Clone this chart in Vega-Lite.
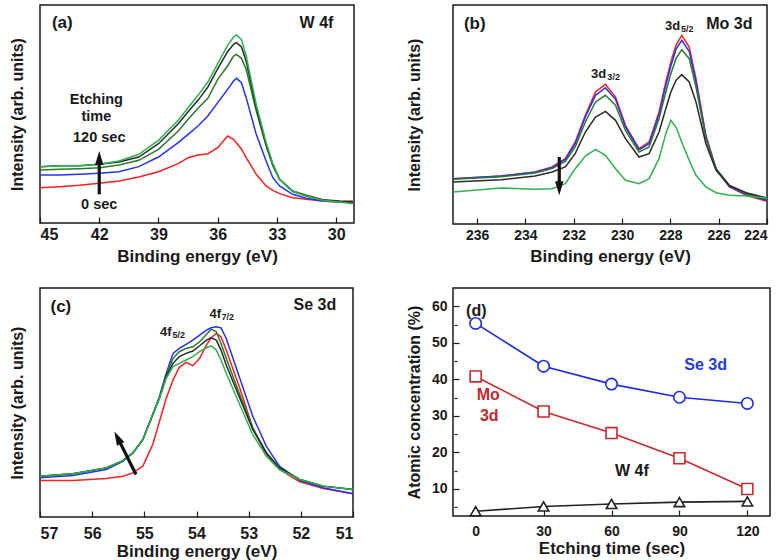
{
"$schema": "https://vega.github.io/schema/vega-lite/v6.json",
"background": "white",
"padding": {"left": 8, "top": 4, "right": 4, "bottom": 0},
"config": {
  "font": "Liberation Sans",
  "view": {"stroke": "#1a1a1a", "strokeWidth": 1.5},
  "axis": {"labelFontWeight": "bold", "titleFontWeight": "bold", "labelColor": "#1a1a1a", "titleColor": "#1a1a1a", "grid": false, "domain": false, "tickColor": "#1a1a1a", "tickWidth": 1.2, "labelFont": "Liberation Sans", "titleFont": "Liberation Sans", "labelOverlap": false},
  "text": {"font": "Liberation Sans", "fontWeight": "bold"}
},
"datasets": {
  "a": [
    {"s":"0","e":45,"v":106},{"s":"0","e":44,"v":109},{"s":"0","e":43,"v":113},{"s":"0","e":42,"v":119},{"s":"0","e":41,"v":126},{"s":"0","e":40,"v":138},{"s":"0","e":39,"v":154},{"s":"0","e":38,"v":178},{"s":"0","e":37.5,"v":196},{"s":"0","e":37,"v":204},{"s":"0","e":36.5,"v":208},{"s":"0","e":36,"v":226},{"s":"0","e":35.5,"v":261},{"s":"0","e":35.2,"v":251},{"s":"0","e":35.05,"v":240},{"s":"0","e":34.8,"v":222},{"s":"0","e":34.56,"v":196},{"s":"0","e":34.05,"v":146},{"s":"0","e":33.55,"v":111},{"s":"0","e":33.21,"v":98},{"s":"0","e":32.87,"v":88},{"s":"0","e":32.2,"v":76},{"s":"0","e":31.52,"v":71},{"s":"0","e":30.68,"v":66},{"s":"0","e":29.83,"v":63},{"s":"0","e":29.16,"v":66},
    {"s":"30","e":45,"v":144},{"s":"30","e":44,"v":144},{"s":"30","e":43,"v":146},{"s":"30","e":42,"v":149},{"s":"30","e":41,"v":154},{"s":"30","e":40,"v":169},{"s":"30","e":39,"v":198},{"s":"30","e":38,"v":241},{"s":"30","e":37.5,"v":266},{"s":"30","e":37,"v":291},{"s":"30","e":36.5,"v":321},{"s":"30","e":36,"v":361},{"s":"30","e":35.5,"v":401},{"s":"30","e":35.2,"v":426},{"s":"30","e":35.05,"v":434},{"s":"30","e":34.8,"v":421},{"s":"30","e":34.56,"v":376},{"s":"30","e":34.05,"v":266},{"s":"30","e":33.55,"v":186},{"s":"30","e":33.21,"v":136},{"s":"30","e":32.87,"v":111},{"s":"30","e":32.2,"v":86},{"s":"30","e":31.52,"v":74},{"s":"30","e":30.68,"v":66},{"s":"30","e":29.83,"v":63},{"s":"30","e":29.16,"v":64},
    {"s":"60","e":45,"v":159},{"s":"60","e":44,"v":161},{"s":"60","e":43,"v":163},{"s":"60","e":42,"v":166},{"s":"60","e":41,"v":174},{"s":"60","e":40,"v":188},{"s":"60","e":39,"v":221},{"s":"60","e":38,"v":276},{"s":"60","e":37.5,"v":311},{"s":"60","e":37,"v":344},{"s":"60","e":36.5,"v":374},{"s":"60","e":36,"v":431},{"s":"60","e":35.5,"v":471},{"s":"60","e":35.2,"v":501},{"s":"60","e":35.05,"v":506},{"s":"60","e":34.8,"v":494},{"s":"60","e":34.56,"v":461},{"s":"60","e":34.05,"v":336},{"s":"60","e":33.55,"v":231},{"s":"60","e":33.21,"v":171},{"s":"60","e":32.87,"v":131},{"s":"60","e":32.2,"v":94},{"s":"60","e":31.52,"v":81},{"s":"60","e":30.68,"v":68},{"s":"60","e":29.83,"v":64},{"s":"60","e":29.16,"v":62},
    {"s":"90","e":45,"v":169},{"s":"90","e":44,"v":172},{"s":"90","e":43,"v":172},{"s":"90","e":42,"v":176},{"s":"90","e":41,"v":183},{"s":"90","e":40,"v":198},{"s":"90","e":39,"v":238},{"s":"90","e":38,"v":298},{"s":"90","e":37.5,"v":334},{"s":"90","e":37,"v":368},{"s":"90","e":36.5,"v":408},{"s":"90","e":36,"v":463},{"s":"90","e":35.5,"v":514},{"s":"90","e":35.2,"v":536},{"s":"90","e":35.05,"v":541},{"s":"90","e":34.8,"v":528},{"s":"90","e":34.56,"v":486},{"s":"90","e":34.05,"v":346},{"s":"90","e":33.55,"v":236},{"s":"90","e":33.21,"v":176},{"s":"90","e":32.87,"v":131},{"s":"90","e":32.2,"v":96},{"s":"90","e":31.52,"v":83},{"s":"90","e":30.68,"v":70},{"s":"90","e":29.83,"v":66},{"s":"90","e":29.16,"v":64},
    {"s":"120","e":45,"v":169},{"s":"120","e":44,"v":172},{"s":"120","e":43,"v":172},{"s":"120","e":42,"v":176},{"s":"120","e":41,"v":186},{"s":"120","e":40,"v":206},{"s":"120","e":39,"v":248},{"s":"120","e":38,"v":308},{"s":"120","e":37.5,"v":346},{"s":"120","e":37,"v":383},{"s":"120","e":36.5,"v":423},{"s":"120","e":36,"v":478},{"s":"120","e":35.5,"v":533},{"s":"120","e":35.2,"v":558},{"s":"120","e":35.05,"v":564},{"s":"120","e":34.8,"v":551},{"s":"120","e":34.56,"v":501},{"s":"120","e":34.05,"v":356},{"s":"120","e":33.55,"v":241},{"s":"120","e":33.21,"v":178},{"s":"120","e":32.87,"v":131},{"s":"120","e":32.2,"v":96},{"s":"120","e":31.52,"v":81},{"s":"120","e":30.68,"v":68},{"s":"120","e":29.83,"v":63},{"s":"120","e":29.16,"v":58}
  ],
  "b": [
    {"s":"0","e":237,"v":136},{"s":"0","e":235,"v":144},{"s":"0","e":233.6,"v":156},{"s":"0","e":232.9,"v":171},{"s":"0","e":232.35,"v":196},{"s":"0","e":231.94,"v":246},{"s":"0","e":231.52,"v":326},{"s":"0","e":231.1,"v":396},{"s":"0","e":230.69,"v":419},{"s":"0","e":230.27,"v":381},{"s":"0","e":229.86,"v":296},{"s":"0","e":229.3,"v":226},{"s":"0","e":228.88,"v":246},{"s":"0","e":228.47,"v":336},{"s":"0","e":228.19,"v":426},{"s":"0","e":227.98,"v":486},{"s":"0","e":227.77,"v":536},{"s":"0","e":227.53,"v":566},{"s":"0","e":227.22,"v":531},{"s":"0","e":226.94,"v":436},{"s":"0","e":226.53,"v":266},{"s":"0","e":226.11,"v":166},{"s":"0","e":225.56,"v":111},{"s":"0","e":224.86,"v":86},{"s":"0","e":224,"v":68},
    {"s":"30","e":237,"v":136},{"s":"30","e":235,"v":144},{"s":"30","e":233.6,"v":155},{"s":"30","e":232.9,"v":169},{"s":"30","e":232.35,"v":194},{"s":"30","e":231.94,"v":241},{"s":"30","e":231.52,"v":321},{"s":"30","e":231.1,"v":386},{"s":"30","e":230.69,"v":409},{"s":"30","e":230.27,"v":374},{"s":"30","e":229.86,"v":291},{"s":"30","e":229.3,"v":223},{"s":"30","e":228.88,"v":241},{"s":"30","e":228.47,"v":328},{"s":"30","e":228.19,"v":416},{"s":"30","e":227.98,"v":474},{"s":"30","e":227.77,"v":524},{"s":"30","e":227.53,"v":551},{"s":"30","e":227.22,"v":518},{"s":"30","e":226.94,"v":426},{"s":"30","e":226.53,"v":261},{"s":"30","e":226.11,"v":166},{"s":"30","e":225.56,"v":113},{"s":"30","e":224.86,"v":88},{"s":"30","e":224,"v":71},
    {"s":"60","e":237,"v":134},{"s":"60","e":235,"v":142},{"s":"60","e":233.6,"v":153},{"s":"60","e":232.9,"v":166},{"s":"60","e":232.35,"v":188},{"s":"60","e":231.94,"v":231},{"s":"60","e":231.52,"v":306},{"s":"60","e":231.1,"v":366},{"s":"60","e":230.69,"v":386},{"s":"60","e":230.27,"v":356},{"s":"60","e":229.86,"v":281},{"s":"60","e":229.3,"v":216},{"s":"60","e":228.88,"v":231},{"s":"60","e":228.47,"v":316},{"s":"60","e":228.19,"v":396},{"s":"60","e":227.98,"v":451},{"s":"60","e":227.77,"v":496},{"s":"60","e":227.53,"v":523},{"s":"60","e":227.22,"v":496},{"s":"60","e":226.94,"v":411},{"s":"60","e":226.53,"v":256},{"s":"60","e":226.11,"v":166},{"s":"60","e":225.56,"v":116},{"s":"60","e":224.86,"v":91},{"s":"60","e":224,"v":76},
    {"s":"90","e":237,"v":126},{"s":"90","e":235,"v":133},{"s":"90","e":233.6,"v":144},{"s":"90","e":232.9,"v":156},{"s":"90","e":232.35,"v":171},{"s":"90","e":231.94,"v":211},{"s":"90","e":231.52,"v":276},{"s":"90","e":231.1,"v":321},{"s":"90","e":230.69,"v":338},{"s":"90","e":230.27,"v":311},{"s":"90","e":229.86,"v":256},{"s":"90","e":229.3,"v":201},{"s":"90","e":228.88,"v":211},{"s":"90","e":228.47,"v":276},{"s":"90","e":228.19,"v":346},{"s":"90","e":227.98,"v":396},{"s":"90","e":227.77,"v":431},{"s":"90","e":227.53,"v":448},{"s":"90","e":227.22,"v":426},{"s":"90","e":226.94,"v":366},{"s":"90","e":226.53,"v":241},{"s":"90","e":226.11,"v":161},{"s":"90","e":225.56,"v":116},{"s":"90","e":224.86,"v":94},{"s":"90","e":224,"v":78},
    {"s":"120","e":237,"v":96},{"s":"120","e":235,"v":108},{"s":"120","e":233.6,"v":104},{"s":"120","e":232.9,"v":106},{"s":"120","e":232.35,"v":121},{"s":"120","e":231.94,"v":166},{"s":"120","e":231.52,"v":204},{"s":"120","e":231.1,"v":224},{"s":"120","e":230.69,"v":206},{"s":"120","e":230.27,"v":166},{"s":"120","e":229.86,"v":131},{"s":"120","e":229.3,"v":121},{"s":"120","e":228.88,"v":136},{"s":"120","e":228.47,"v":196},{"s":"120","e":228.19,"v":271},{"s":"120","e":227.98,"v":311},{"s":"120","e":227.77,"v":291},{"s":"120","e":227.53,"v":246},{"s":"120","e":227.22,"v":191},{"s":"120","e":226.94,"v":146},{"s":"120","e":226.53,"v":111},{"s":"120","e":226.11,"v":94},{"s":"120","e":225.56,"v":86},{"s":"120","e":224.86,"v":84},{"s":"120","e":224,"v":78}
  ],
  "c": [
    {"s":"0","e":57,"v":110},{"s":"0","e":56.37,"v":110},{"s":"0","e":55.73,"v":116},{"s":"0","e":55.41,"v":123},{"s":"0","e":55.22,"v":133},{"s":"0","e":55.03,"v":153},{"s":"0","e":54.84,"v":218},{"s":"0","e":54.71,"v":288},{"s":"0","e":54.58,"v":358},{"s":"0","e":54.45,"v":413},{"s":"0","e":54.33,"v":451},{"s":"0","e":54.2,"v":466},{"s":"0","e":54.07,"v":456},{"s":"0","e":53.94,"v":478},{"s":"0","e":53.81,"v":518},{"s":"0","e":53.72,"v":540},{"s":"0","e":53.62,"v":553},{"s":"0","e":53.53,"v":543},{"s":"0","e":53.43,"v":503},{"s":"0","e":53.17,"v":388},{"s":"0","e":52.92,"v":268},{"s":"0","e":52.66,"v":188},{"s":"0","e":52.41,"v":143},{"s":"0","e":52.02,"v":106},{"s":"0","e":51.57,"v":86},{"s":"0","e":51,"v":70},
    {"s":"30","e":57,"v":118},{"s":"30","e":56.37,"v":125},{"s":"30","e":55.73,"v":143},{"s":"30","e":55.41,"v":168},{"s":"30","e":55.22,"v":193},{"s":"30","e":55.03,"v":233},{"s":"30","e":54.84,"v":308},{"s":"30","e":54.71,"v":363},{"s":"30","e":54.58,"v":433},{"s":"30","e":54.45,"v":493},{"s":"30","e":54.33,"v":508},{"s":"30","e":54.2,"v":520},{"s":"30","e":54.07,"v":533},{"s":"30","e":53.94,"v":548},{"s":"30","e":53.81,"v":563},{"s":"30","e":53.72,"v":570},{"s":"30","e":53.62,"v":573},{"s":"30","e":53.53,"v":570},{"s":"30","e":53.43,"v":538},{"s":"30","e":53.17,"v":418},{"s":"30","e":52.92,"v":303},{"s":"30","e":52.66,"v":213},{"s":"30","e":52.41,"v":153},{"s":"30","e":52.02,"v":110},{"s":"30","e":51.57,"v":88},{"s":"30","e":51,"v":70},
    {"s":"60","e":57,"v":123},{"s":"60","e":56.37,"v":130},{"s":"60","e":55.73,"v":148},{"s":"60","e":55.41,"v":170},{"s":"60","e":55.22,"v":193},{"s":"60","e":55.03,"v":233},{"s":"60","e":54.84,"v":308},{"s":"60","e":54.71,"v":360},{"s":"60","e":54.58,"v":426},{"s":"60","e":54.45,"v":478},{"s":"60","e":54.33,"v":498},{"s":"60","e":54.2,"v":508},{"s":"60","e":54.07,"v":513},{"s":"60","e":53.94,"v":528},{"s":"60","e":53.81,"v":550},{"s":"60","e":53.72,"v":566},{"s":"60","e":53.62,"v":558},{"s":"60","e":53.53,"v":523},{"s":"60","e":53.43,"v":478},{"s":"60","e":53.17,"v":368},{"s":"60","e":52.92,"v":268},{"s":"60","e":52.66,"v":193},{"s":"60","e":52.41,"v":148},{"s":"60","e":52.02,"v":113},{"s":"60","e":51.57,"v":93},{"s":"60","e":51,"v":83},
    {"s":"90","e":57,"v":123},{"s":"90","e":56.37,"v":130},{"s":"90","e":55.73,"v":148},{"s":"90","e":55.41,"v":170},{"s":"90","e":55.22,"v":193},{"s":"90","e":55.03,"v":233},{"s":"90","e":54.84,"v":308},{"s":"90","e":54.71,"v":358},{"s":"90","e":54.58,"v":423},{"s":"90","e":54.45,"v":463},{"s":"90","e":54.33,"v":483},{"s":"90","e":54.2,"v":493},{"s":"90","e":54.07,"v":500},{"s":"90","e":53.94,"v":516},{"s":"90","e":53.81,"v":533},{"s":"90","e":53.72,"v":540},{"s":"90","e":53.62,"v":533},{"s":"90","e":53.53,"v":503},{"s":"90","e":53.43,"v":458},{"s":"90","e":53.17,"v":358},{"s":"90","e":52.92,"v":263},{"s":"90","e":52.66,"v":193},{"s":"90","e":52.41,"v":148},{"s":"90","e":52.02,"v":113},{"s":"90","e":51.57,"v":93},{"s":"90","e":51,"v":83},
    {"s":"120","e":57,"v":123},{"s":"120","e":56.37,"v":130},{"s":"120","e":55.73,"v":148},{"s":"120","e":55.41,"v":170},{"s":"120","e":55.22,"v":193},{"s":"120","e":55.03,"v":233},{"s":"120","e":54.84,"v":308},{"s":"120","e":54.71,"v":358},{"s":"120","e":54.58,"v":418},{"s":"120","e":54.45,"v":453},{"s":"120","e":54.33,"v":463},{"s":"120","e":54.2,"v":473},{"s":"120","e":54.07,"v":483},{"s":"120","e":53.94,"v":498},{"s":"120","e":53.81,"v":510},{"s":"120","e":53.72,"v":516},{"s":"120","e":53.62,"v":503},{"s":"120","e":53.53,"v":473},{"s":"120","e":53.43,"v":433},{"s":"120","e":53.17,"v":338},{"s":"120","e":52.92,"v":248},{"s":"120","e":52.66,"v":183},{"s":"120","e":52.41,"v":143},{"s":"120","e":52.02,"v":113},{"s":"120","e":51.57,"v":93},{"s":"120","e":51,"v":83}
  ],
  "d": [
    {"el":"Se 3d","t":0,"c":55.3},{"el":"Se 3d","t":30,"c":43.6},{"el":"Se 3d","t":60,"c":38.7},{"el":"Se 3d","t":90,"c":35.1},{"el":"Se 3d","t":120,"c":33.4},
    {"el":"Mo 3d","t":0,"c":40.8},{"el":"Mo 3d","t":30,"c":31.2},{"el":"Mo 3d","t":60,"c":25.3},{"el":"Mo 3d","t":90,"c":18.4},{"el":"Mo 3d","t":120,"c":10.0},
    {"el":"W 4f","t":0,"c":3.9},{"el":"W 4f","t":30,"c":5.2},{"el":"W 4f","t":60,"c":5.9},{"el":"W 4f","t":90,"c":6.4},{"el":"W 4f","t":120,"c":6.6}
  ]
},
"spacing": 48,
"resolve": {"scale": {"color": "independent", "stroke": "independent", "shape": "independent", "size": "independent"}},
"hconcat": [
  {"spacing": 22, "resolve": {"scale": {"color": "independent"}}, "vconcat": [
    {"width": 314, "height": 218, "layer": [
      {"data": {"name": "a"}, "mark": {"type": "line", "strokeWidth": 1.5},
       "encoding": {
         "x": {"field": "e", "type": "quantitative", "scale": {"domain": [29.1, 45], "reverse": true, "nice": false, "zero": false},
               "axis": {"title": "Binding energy (eV)", "values": [45,43.5,42,40.5,39,37.5,36,34.5,33,31.5,30], "labelOverlap": false, "labelExpr": "datum.value % 3 === 0 ? datum.label : ''", "tickSize": {"condition": {"test": "datum.value % 3 === 0", "value": -6}, "value": -3}, "labelFontSize": 16, "titleFontSize": 17, "labelPadding": 9, "titlePadding": 6}},
         "y": {"field": "v", "type": "quantitative", "scale": {"domain": [0, 654], "nice": false, "zero": false},
               "axis": {"title": "Intensity (arb. units)", "labels": false, "ticks": false, "titleFontSize": 16, "titlePadding": 15}},
         "color": {"field": "s", "type": "nominal", "scale": {"domain": ["0","30","60","90","120"], "range": ["#ff1f1f","#2233ff","#2a7a2a","#2a2a2a","#2eb24e"]}, "legend": null}
       }},
      {"data": {"values": [{"e":43.87,"v":600,"t":"(a)"}]}, "mark": {"type": "text", "fontSize": 17, "color": "#1a1a1a"},
       "encoding": {"x": {"field": "e", "type": "quantitative"}, "y": {"field": "v", "type": "quantitative"}, "text": {"field": "t"}}},
      {"data": {"values": [{"e":31.0,"v":600,"t":"W 4f"}]}, "mark": {"type": "text", "fontSize": 16, "color": "#1a1a1a"},
       "encoding": {"x": {"field": "e", "type": "quantitative"}, "y": {"field": "v", "type": "quantitative"}, "text": {"field": "t"}}},
      {"data": {"values": [{"e":42.15,"v":369,"t":"Etching"},{"e":42.15,"v":318,"t":"time"},{"e":42.0,"v":255,"t":"120 sec"},{"e":42.0,"v":54,"t":"0 sec"}]}, "mark": {"type": "text", "fontSize": 14.5, "color": "#1a1a1a"},
       "encoding": {"x": {"field": "e", "type": "quantitative"}, "y": {"field": "v", "type": "quantitative"}, "text": {"field": "t"}}},
      {"data": {"values": [{"e":42.0,"v":86,"v2":182}]}, "mark": {"type": "rule", "strokeWidth": 3.2, "color": "#111"},
       "encoding": {"x": {"field": "e", "type": "quantitative"}, "y": {"field": "v", "type": "quantitative"}, "y2": {"field": "v2"}}},
      {"data": {"values": [{"e":42.0,"v":195}]}, "mark": {"type": "point", "filled": true, "color": "#111", "opacity": 1, "size": 196, "shape": "M-0.6,1L0,-1L0.6,1Z"},
       "encoding": {"x": {"field": "e", "type": "quantitative"}, "y": {"field": "v", "type": "quantitative"}}}
    ]},
    {"width": 313, "height": 229, "layer": [
      {"data": {"name": "c"}, "mark": {"type": "line", "strokeWidth": 1.5},
       "encoding": {
         "x": {"field": "e", "type": "quantitative", "scale": {"domain": [51, 57], "reverse": true, "nice": false, "zero": false},
               "axis": {"title": "Binding energy (eV)", "values": [57,56.5,56,55.5,55,54.5,54,53.5,53,52.5,52,51.5,51], "labelOverlap": false, "labelExpr": "datum.value % 1 === 0 ? datum.label : ''", "tickSize": {"condition": {"test": "datum.value % 1 === 0", "value": -6}, "value": -3}, "labelFontSize": 16, "titleFontSize": 17, "labelPadding": 14, "titlePadding": 2}},
         "y": {"field": "v", "type": "quantitative", "scale": {"domain": [0, 690], "nice": false, "zero": false},
               "axis": {"title": "Intensity (arb. units)", "labels": false, "ticks": false, "titleFontSize": 16, "titlePadding": 15}},
         "color": {"field": "s", "type": "nominal", "scale": {"domain": ["0","30","60","90","120"], "range": ["#ff1f1f","#2233ff","#2a7a2a","#2a2a2a","#2eb24e"]}, "legend": null}
       }},
      {"data": {"values": [{"e":56.6,"v":633,"t":"(c)"}]}, "mark": {"type": "text", "fontSize": 17, "color": "#1a1a1a"},
       "encoding": {"x": {"field": "e", "type": "quantitative"}, "y": {"field": "v", "type": "quantitative"}, "text": {"field": "t"}}},
      {"data": {"values": [{"e":51.73,"v":638,"t":"Se 3d"}]}, "mark": {"type": "text", "fontSize": 16, "color": "#1a1a1a"},
       "encoding": {"x": {"field": "e", "type": "quantitative"}, "y": {"field": "v", "type": "quantitative"}, "text": {"field": "t"}}},
      {"data": {"values": [{"e":53.64,"v":613,"t":"4f"},{"e":54.59,"v":558,"t":"4f"}]}, "mark": {"type": "text", "fontSize": 13, "color": "#1a1a1a"},
       "encoding": {"x": {"field": "e", "type": "quantitative"}, "y": {"field": "v", "type": "quantitative"}, "text": {"field": "t"}}},
      {"data": {"values": [{"e":53.40,"v":603,"t":"7/2"},{"e":54.34,"v":548,"t":"5/2"}]}, "mark": {"type": "text", "fontSize": 9, "color": "#1a1a1a"},
       "encoding": {"x": {"field": "e", "type": "quantitative"}, "y": {"field": "v", "type": "quantitative"}, "text": {"field": "t"}}},
      {"data": {"values": [{"e":55.16,"v":128,"e2":55.47,"v2":226}]}, "mark": {"type": "rule", "strokeWidth": 3.2, "color": "#111"},
       "encoding": {"x": {"field": "e", "type": "quantitative"}, "y": {"field": "v", "type": "quantitative"}, "x2": {"field": "e2"}, "y2": {"field": "v2"}}},
      {"data": {"values": [{"e":55.514,"v":239}]}, "mark": {"type": "point", "filled": true, "color": "#111", "opacity": 1, "size": 196, "angle": -26.6, "shape": "M-0.6,1L0,-1L0.6,1Z"},
       "encoding": {"x": {"field": "e", "type": "quantitative"}, "y": {"field": "v", "type": "quantitative"}}}
    ]}
  ]},
  {"spacing": 22, "resolve": {"scale": {"color": "independent", "stroke": "independent", "shape": "independent", "size": "independent"}}, "vconcat": [
    {"width": 314, "height": 219, "layer": [
      {"data": {"name": "b"}, "mark": {"type": "line", "strokeWidth": 1.5},
       "encoding": {
         "x": {"field": "e", "type": "quantitative", "scale": {"domain": [224, 237], "reverse": true, "nice": false, "zero": false},
               "axis": {"title": "Binding energy (eV)", "values": [236,235,234,233,232,231,230,229,228,227,226,225,224], "labelOverlap": false, "labelExpr": "datum.value % 2 === 0 ? datum.label : ''", "tickSize": {"condition": {"test": "datum.value % 2 === 0", "value": -6}, "value": -3}, "labelFontSize": 14, "titleFontSize": 17, "labelPadding": 10, "titlePadding": 6}},
         "y": {"field": "v", "type": "quantitative", "scale": {"domain": [0, 657], "nice": false, "zero": false},
               "axis": {"title": "Intensity (arb. units)", "labels": false, "ticks": false, "titleFontSize": 16, "titlePadding": 31}},
         "color": {"field": "s", "type": "nominal", "scale": {"domain": ["0","30","60","90","120"], "range": ["#ff1f1f","#2233ff","#2a7a2a","#2a2a2a","#2eb24e"]}, "legend": null}
       }},
      {"data": {"values": [{"e":236.1,"v":601,"t":"(b)"}]}, "mark": {"type": "text", "fontSize": 17, "color": "#1a1a1a"},
       "encoding": {"x": {"field": "e", "type": "quantitative"}, "y": {"field": "v", "type": "quantitative"}, "text": {"field": "t"}}},
      {"data": {"values": [{"e":225.56,"v":601,"t":"Mo 3d"}]}, "mark": {"type": "text", "fontSize": 16, "color": "#1a1a1a"},
       "encoding": {"x": {"field": "e", "type": "quantitative"}, "y": {"field": "v", "type": "quantitative"}, "text": {"field": "t"}}},
      {"data": {"values": [{"e":230.97,"v":451,"t":"3d"},{"e":227.91,"v":594,"t":"3d"}]}, "mark": {"type": "text", "fontSize": 13, "color": "#1a1a1a"},
       "encoding": {"x": {"field": "e", "type": "quantitative"}, "y": {"field": "v", "type": "quantitative"}, "text": {"field": "t"}}},
      {"data": {"values": [{"e":230.35,"v":441,"t":"3/2"},{"e":227.3,"v":585,"t":"5/2"}]}, "mark": {"type": "text", "fontSize": 9, "color": "#1a1a1a"},
       "encoding": {"x": {"field": "e", "type": "quantitative"}, "y": {"field": "v", "type": "quantitative"}, "text": {"field": "t"}}},
      {"data": {"values": [{"e":232.6,"v":201,"v2":118}]}, "mark": {"type": "rule", "strokeWidth": 3.2, "color": "#111"},
       "encoding": {"x": {"field": "e", "type": "quantitative"}, "y": {"field": "v", "type": "quantitative"}, "y2": {"field": "v2"}}},
      {"data": {"values": [{"e":232.6,"v":107}]}, "mark": {"type": "point", "filled": true, "color": "#111", "opacity": 1, "size": 196, "shape": "M-0.6,-1L0,1L0.6,-1Z"},
       "encoding": {"x": {"field": "e", "type": "quantitative"}, "y": {"field": "v", "type": "quantitative"}}}
    ]},
    {"width": 317, "height": 228, "resolve": {"axis": {"y": "independent"}}, "layer": [
      {"data": {"name": "d"}, "mark": {"type": "line", "strokeWidth": 1.6},
       "encoding": {
         "x": {"field": "t", "type": "quantitative", "scale": {"domain": [-10, 130], "nice": false, "zero": false},
               "axis": {"title": "Etching time (sec)", "values": [0,15,30,45,60,75,90,105,120], "labelOverlap": false, "labelExpr": "datum.value % 30 === 0 ? datum.label : ''", "tickSize": {"condition": {"test": "datum.value % 30 === 0", "value": -6}, "value": -3}, "labelFontSize": 14, "titleFontSize": 17, "labelPadding": 14, "titlePadding": 2}},
         "y": {"field": "c", "type": "quantitative", "scale": {"domain": [2.6, 65], "nice": false, "zero": false},
               "axis": {"title": "Atomic concentration (%)", "orient": "left", "values": [10,20,30,40,50,60], "tickSize": -6, "labelFontSize": 14, "titleFontSize": 16, "labelPadding": 12, "titlePadding": 9}},
         "color": {"field": "el", "type": "nominal", "scale": {"domain": ["Se 3d","Mo 3d","W 4f"], "range": ["#1a2ee6","#cc2a2a","#222222"]}, "legend": null}
       }},
      {"data": {"name": "d"}, "mark": {"type": "point", "filled": false, "strokeWidth": 1.6, "opacity": 1},
       "encoding": {
         "x": {"field": "t", "type": "quantitative"},
         "y": {"field": "c", "type": "quantitative", "axis": {"orient": "left", "title": null, "labels": false, "values": [5,15,25,35,45,55], "tickSize": -3, "offset": -1}},
         "fill": {"value": "white"},
         "stroke": {"field": "el", "type": "nominal", "scale": {"domain": ["Se 3d","Mo 3d","W 4f"], "range": ["#1a2ee6","#cc2a2a","#222222"]}, "legend": null},
         "shape": {"field": "el", "type": "nominal", "scale": {"domain": ["Se 3d","Mo 3d","W 4f"], "range": ["circle","square","triangle-up"]}, "legend": null},
         "size": {"field": "el", "type": "nominal", "scale": {"domain": ["Se 3d","Mo 3d","W 4f"], "range": [130, 110, 140]}, "legend": null}
       }},
      {"data": {"values": [{"t":0.3,"c":58.8,"s":"(d)"},{"t":69,"c":15,"s":"W 4f"}]}, "mark": {"type": "text", "fontSize": 16, "color": "#1a1a1a"},
       "encoding": {"x": {"field": "t", "type": "quantitative"}, "y": {"field": "c", "type": "quantitative", "axis": null}, "text": {"field": "s"}}},
      {"data": {"values": [{"t":101.6,"c":44,"s":"Se 3d"}]}, "mark": {"type": "text", "fontSize": 16, "color": "#1f3de0"},
       "encoding": {"x": {"field": "t", "type": "quantitative"}, "y": {"field": "c", "type": "quantitative", "axis": null}, "text": {"field": "s"}}},
      {"data": {"values": [{"t":5.6,"c":35.8,"s":"Mo"},{"t":6,"c":30.1,"s":"3d"}]}, "mark": {"type": "text", "fontSize": 16, "color": "#c8282d"},
       "encoding": {"x": {"field": "t", "type": "quantitative"}, "y": {"field": "c", "type": "quantitative", "axis": null}, "text": {"field": "s"}}}
    ]}
  ]}
]
}
